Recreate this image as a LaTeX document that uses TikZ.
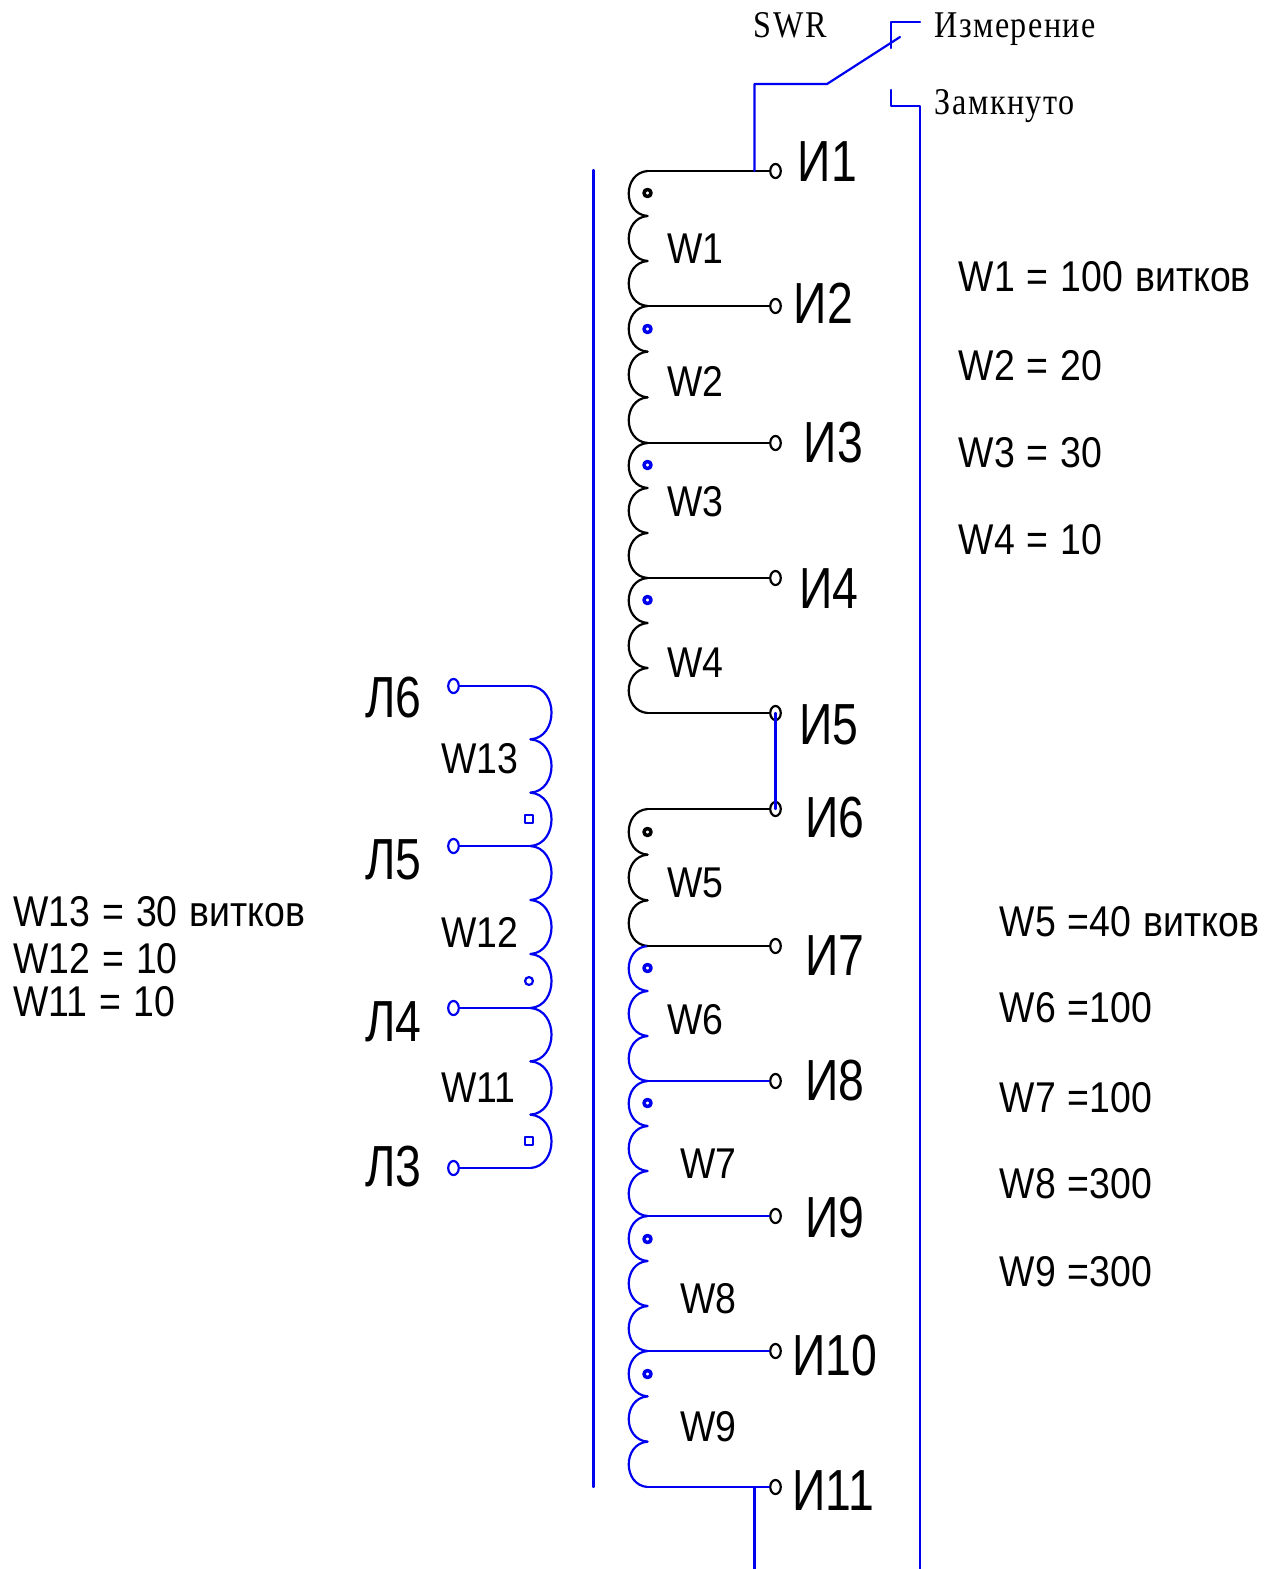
\documentclass[tikz,border=0pt]{standalone}
\usepackage{fontspec}
\setmainfont{Liberation Sans}
\newfontfamily\narrowfont[FakeStretch=0.87,WordSpace=1.15]{Liberation Sans}
\newfontfamily\pinfont[FakeStretch=0.8]{Liberation Sans}
\newfontfamily\labelfont[FakeStretch=0.85,LetterSpace=4]{Liberation Serif}
\usetikzlibrary{shapes.geometric,calc}
\definecolor{wireblue}{HTML}{0000F0}
\tikzset{
    wire/.style={line width=1.25pt},
    bluewire/.style={wire,wireblue},
    term/.style={draw,wire,ellipse,inner sep=0pt,minimum width=6pt,minimum height=8pt},
    dot/.style={draw,line width=2pt,circle,inner sep=0pt,minimum size=4pt},
    sqdot/.style={draw,line width=1pt,inner sep=0pt,minimum size=4.5pt},
    lbl/.style={inner sep=0pt,font=\narrowfont\fontsize{24.5}{24.5}\selectfont},
    pin/.style={inner sep=0pt,font=\pinfont\fontsize{33}{33}\selectfont},
    swlbl/.style={inner sep=0pt,font=\labelfont\fontsize{21.5}{21.5}\selectfont},
}
\begin{document}
\begin{tikzpicture}[x=0.02cm,y=-0.02cm,line join=round,line cap=round]
    \useasboundingbox (0,0) rectangle (1275,1569);
    % core
    \draw[bluewire] (593.5,170)--(593.5,1487);
    % primary taps
    \foreach \n/\yy in {1/171,2/306,3/443,4/578,5/713,6/809,7/946,8/1081,9/1216,10/1351,11/1487}{
        \coordinate (c\n) at (647.5,\yy);
        \node[term] (t\n) at (775.5,\yy){};
    }
    % primary coils
    \foreach \a/\b/\col in {1/2/black,2/3/black,3/4/black,4/5/black,6/7/black,7/8/wireblue,8/9/wireblue,9/10/wireblue,10/11/wireblue}{
        \foreach \i in {0,1,2}{
            \draw[wire,\col] ($(c\a)!{\i/3}!(c\b)$) .. controls +(-25,2) and +(-25,-2) .. ($(c\a)!{(\i+1)/3}!(c\b)$);
        }
    }
    \foreach \n in {1,...,7}{
        \draw[wire] (c\n)--(t\n);
    }
    \foreach \n in {8,...,11}{
        \draw[bluewire] (c\n)--(t\n);
    }
    \draw[bluewire] (t5.center)--(t6.center);
    % dots
    \node[dot] (d1) at (647.5,193){};
    \node[dot,wireblue] (d2) at (647.5,329){};
    \node[dot,wireblue] (d3) at (647.5,465){};
    \node[dot,wireblue] (d4) at (647.5,600){};
    \node[dot] (d5) at (647.5,832){};
    \node[dot,wireblue] (d6) at (647.5,968){};
    \node[dot,wireblue] (d7) at (647.5,1103){};
    \node[dot,wireblue] (d8) at (647.5,1239){};
    \node[dot,wireblue] (d9) at (647.5,1374){};
    % secondary
    \foreach \n/\yy in {6/686,5/846,4/1008,3/1168}{
        \coordinate (s\n) at (530.5,\yy);
        \node[term,bluewire] (l\n) at (453.5,\yy){};
        \draw[bluewire] (l\n)--(s\n);
    }
    \foreach \a/\b in {6/5,5/4,4/3}{
        \foreach \i in {0,1,2}{
            \draw[bluewire] ($(s\a)!{\i/3}!(s\b)$) .. controls +(28,2) and +(28,-2) .. ($(s\a)!{(\i+1)/3}!(s\b)$);
        }
    }
    \node[sqdot,bluewire] (q1) at (529,819){};
    \node[sqdot,bluewire,circle] (q2) at (529,981){};
    \node[sqdot,bluewire] (q3) at (529,1141){};
    % switch
    \coordinate (sw0) at (754.5,171);
    \coordinate (sw1) at (754.5,84);
    \coordinate (sw2) at (827,84);
    \coordinate (sw3) at (900,37);
    \coordinate (sw4) at (891,48);
    \coordinate (sw5) at (891,22);
    \coordinate (sw6) at (920,22);
    \coordinate (sw7) at (891,90);
    \coordinate (sw8) at (891,106);
    \coordinate (sw9) at (920,106);
    \coordinate (sw10) at (920,1569);
    \coordinate (sw11) at (754.5,1487);
    \coordinate (sw12) at (754.5,1569);
    \draw[bluewire] (sw0)--(sw1)--(sw2)--(sw3);
    \draw[bluewire] (sw4)--(sw5)--(sw6);
    \draw[bluewire] (sw7)--(sw8)--(sw9)--(sw10);
    \draw[bluewire] (sw11)--(sw12);
    % labels
    \node[swlbl,anchor=base west] (swr) at (753.5,37) {SWR};
    \node[swlbl,anchor=base west] (izm) at (934.5,37) {Измерение};
    \node[swlbl,anchor=base west] (zam) at (934.5,114) {Замкнуто};
    \foreach \txt/\xx/\yy in {W1/667/263,W2/667/396,W3/667/516,W4/667/677,W5/667/897,W6/667/1034,W7/680/1178,W8/680/1313,W9/680/1441,W13/441/773,W12/441/947,W11/441/1102,
        W1 = 100 витков/958.5/291,W2 = 20/958.5/380,W3 = 30/958.5/467,W4 = 10/958.5/554,
        W5 =40 витков/999.5/936,W6 =100/999.5/1022,W7 =100/999.5/1112,W8 =300/999.5/1198,W9 =300/999.5/1286,
        W13 = 30 витков/13/926,W12 = 10/13/973,W11 = 10/13/1016}{
        \node[lbl,anchor=base west] at (\xx,\yy) {\txt};
    }
    \foreach \txt/\xx/\yy in {И1/797.5/181,И2/793.5/323,И3/803.5/462,И4/799/608,И5/799/744,И6/805/837,И7/805/975,И8/805/1100,И9/805/1237,И10/792/1375,И11/792/1510,Л6/365/717,Л5/365/879,Л4/365/1041,Л3/365/1186}{
        \node[pin,anchor=base west] at (\xx,\yy) {\txt};
    }
\end{tikzpicture}
\end{document}
